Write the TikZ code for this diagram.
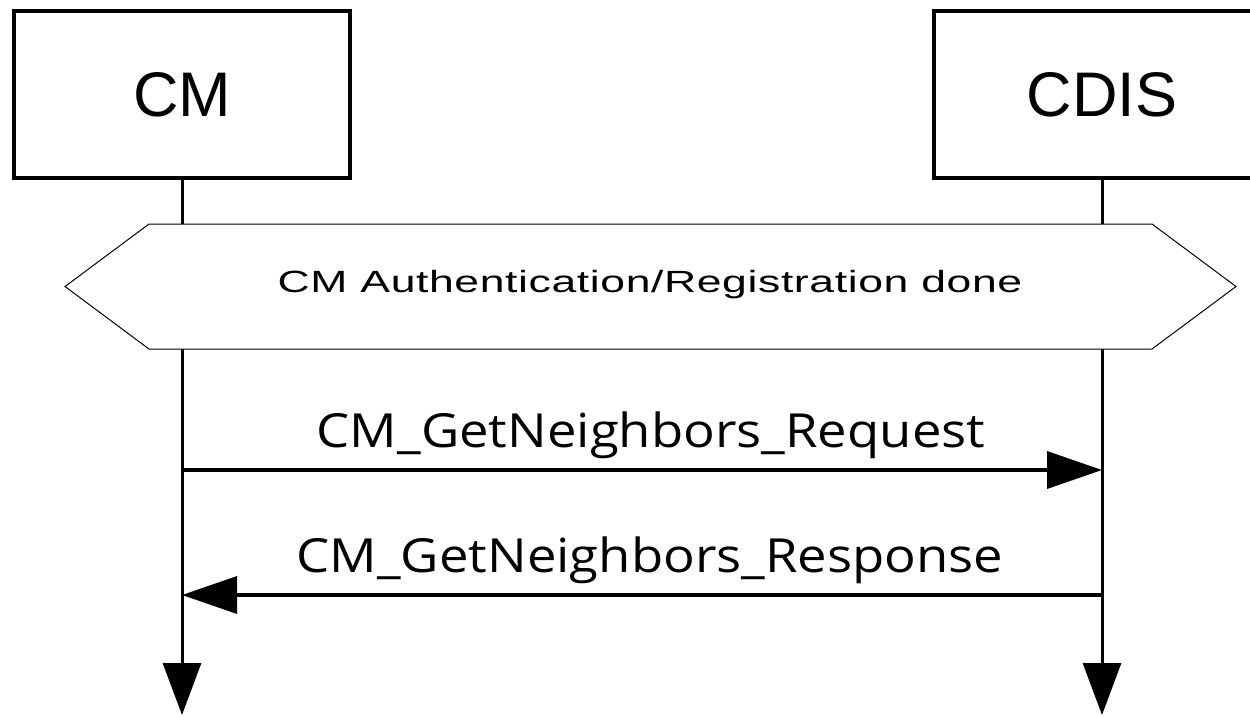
\documentclass[tikz,border=0pt]{standalone}
\usepackage{fontspec}
\setmainfont{Liberation Sans}
\newfontfamily\msgfont[FakeStretch=1.12]{Open Sans}
\newfontfamily\hexfont[FakeStretch=1.45, LetterSpace=2]{Liberation Sans}
\usetikzlibrary{arrows.meta}
\tikzset{
  actor/.style={draw, line width=4pt, minimum width=336pt, minimum height=167pt, inner sep=0pt, font=\fontsize{63}{70}\selectfont},
  lifeline/.style={line width=3pt, -{Triangle[length=52pt, width=38pt]}},
  msg/.style={line width=3.5pt, -{Triangle[length=55pt, width=37pt]}},
  msglabel/.style={anchor=base, inner sep=0pt, font=\msgfont\fontsize{47}{50}\selectfont},
  hexbox/.style={draw, fill=white, line width=1pt},
  hexlabel/.style={anchor=base, inner sep=0pt, font=\hexfont\fontsize{30.7}{34}\selectfont}
}
\begin{document}
\begin{tikzpicture}[x=1pt, y=-1pt]
\path[use as bounding box, clip] (0,0) rectangle (1250,716);
\node[actor] (cm) at (182,94.5) {CM};
\node[actor] (cdis) at (1102,94.5) {CDIS};
\coordinate (cmend) at (182,715);
\coordinate (cdisend) at (1102,715);
\draw[lifeline] (cm.south) -- (cmend);
\draw[lifeline] (cdis.south) -- (cdisend);
% hexagon
\draw[hexbox] (65,286.5) -- (149,224) -- (1152,224) -- (1236,286.5) -- (1152,349) -- (149,349) -- cycle;
\node[hexlabel] (auth) at (650,292) {CM Authentication/Registration done};
% messages
\coordinate (r1a) at (182,470);
\coordinate (r1b) at (1102,470);
\coordinate (r2a) at (1102,595);
\coordinate (r2b) at (182,595);
\draw[msg] (r1a) -- (r1b);
\node[msglabel] (req) at (651,447) {CM\_GetNeighbors\_Request};
\draw[msg] (r2a) -- (r2b);
\node[msglabel] (resp) at (650,572) {CM\_GetNeighbors\_Response};
\end{tikzpicture}
\end{document}
